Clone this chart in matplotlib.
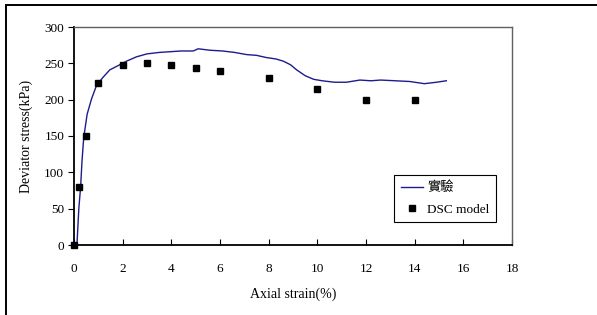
import matplotlib
matplotlib.use("Agg")
import matplotlib.pyplot as plt
from matplotlib.patches import Rectangle

plt.rcParams['font.family'] = ['Liberation Serif', 'Noto Sans CJK TC']

# test curve (實驗)
test_strain = [0.12, 0.2, 0.27, 0.33, 0.4, 0.54, 0.72, 0.93, 1.2, 1.47, 1.82, 2.16, 2.57, 3.0,
               3.5, 3.95, 4.4, 4.9, 5.1, 5.6, 6.1, 6.6, 7.1, 7.5, 7.9, 8.3, 8.6, 8.9, 9.15, 9.5,
               9.85, 10.2, 10.7, 11.2, 11.75, 12.2, 12.6, 13.2, 13.8, 14.4, 14.9, 15.3]
test_stress = [0, 51, 79, 116, 148, 180, 201, 220, 231, 241, 247, 253, 259, 263,
               265, 266, 267, 267, 270, 268, 267, 265, 262, 261, 258, 256, 253, 248, 241, 233,
               228, 226, 224, 224, 227, 226, 227, 226, 225, 222, 224, 226]

# DSC model points
dsc_strain = [0, 0.2, 0.5, 1, 2, 3, 4, 5, 6, 8, 10, 12, 14]
dsc_stress = [0, 80, 150, 223, 248, 250, 248, 243, 239, 230, 214, 199, 199]

x_ticks = [0, 2, 4, 6, 8, 10, 12, 14, 16, 18]
y_ticks = [0, 50, 100, 150, 200, 250, 300]

fig = plt.figure(figsize=(5.97, 3.15), dpi=100)
ax = fig.add_axes([74/597, 70/315, 438/597, 218/315])

ax.plot(test_strain, test_stress, color='#1c1c8c', lw=1.0, label='實驗')
ax.plot(dsc_strain, dsc_stress, 'ks', markersize=4.3, ls='none', label='DSC model', clip_on=False, zorder=5)

ax.set_xlim(0, 18)
ax.set_ylim(0, 300)
ax.set_xticks(x_ticks)
ax.set_yticks(y_ticks)
ax.tick_params(axis='x', direction='in', length=4, labelsize=9.5, pad=13)
ax.tick_params(axis='y', direction='out', length=4, labelsize=9.5, pad=3)
ax.set_xlabel('Axial strain(%)', fontsize=10, labelpad=9)
ax.set_ylabel('Deviator stress(kPa)', fontsize=10, labelpad=8)

for s in ['left', 'bottom']:
    ax.spines[s].set_linewidth(1.3)
    ax.spines[s].set_color('black')
for s in ['top', 'right']:
    ax.spines[s].set_linewidth(1.0)
    ax.spines[s].set_color('#606060')

leg = ax.legend(loc='upper left', bbox_to_anchor=(0.7306, 0.321), fontsize=9.5,
                frameon=True, fancybox=False, edgecolor='black', framealpha=1,
                handlelength=1.7, handletextpad=0.3, borderpad=0.5, labelspacing=0.7,
                borderaxespad=0)
leg.get_frame().set_linewidth(0.8)

# outer chart frame (cut off on the right and bottom)
fig.patches.append(Rectangle((5.5/597, -0.1), 1.2, 1.1 - 5.5/315, transform=fig.transFigure,
                             fill=False, edgecolor='black', lw=1.4))

fig.savefig('out.png', dpi=100)
